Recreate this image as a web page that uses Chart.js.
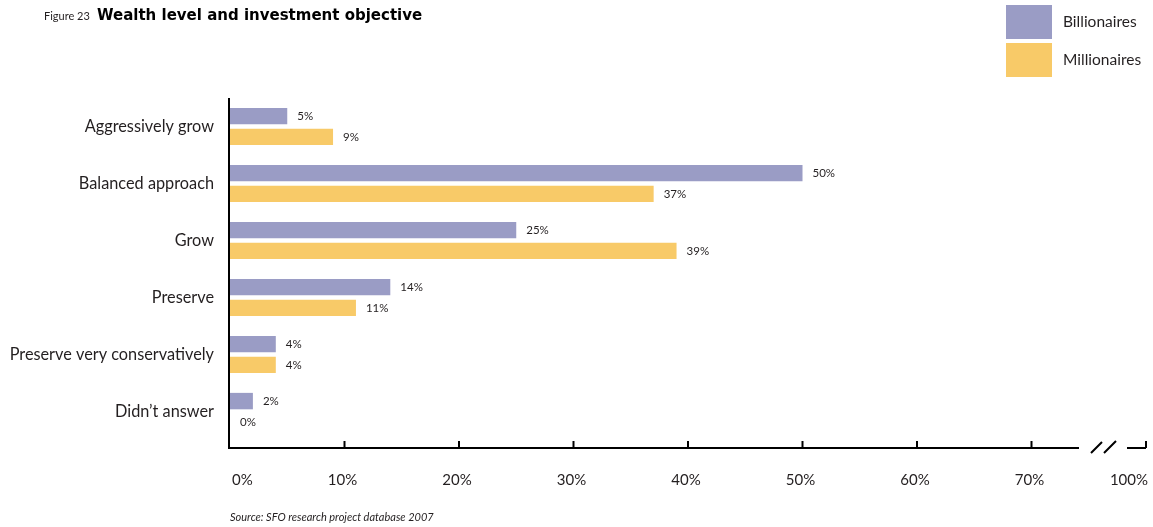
<!DOCTYPE html>
<html>
<head>
<meta charset="utf-8">
<script src="https://cdn.jsdelivr.net/npm/chart.js"></script>
<style>
  html, body { margin: 0; padding: 0; background: #fff; }
  #wrap { position: relative; width: 1153px; height: 527px; }
</style>
</head>
<body>
<div id="wrap"><canvas id="wealthChart" width="1153" height="527"></canvas></div>
<script>
// Chart data
const categories = ['Aggressively grow', 'Balanced approach', 'Grow', 'Preserve', 'Preserve very conservatively', 'Didn\u2019t answer'];
const billionaires = [5, 50, 25, 14, 4, 2];
const millionaires = [9, 37, 39, 11, 4, 0];
const tickValues = [0, 10, 20, 30, 40, 50, 60, 70, 80];
const tickLabels = ['0%', '10%', '20%', '30%', '40%', '50%', '60%', '70%', '100%'];

const FONT = 'Lato, "Noto Sans", sans-serif';
const TEXT = '#231f20';

// Draws title, legend, category labels, value labels, the broken x axis and the source note
const decorPlugin = {
  id: 'decor',
  afterDatasetsDraw(chart) {
    const ctx = chart.ctx;
    const x = chart.scales.x;
    const y = chart.scales.y;
    const area = chart.chartArea;
    const axisY = area.bottom + 8;
    ctx.save();

    // title
    ctx.fillStyle = TEXT;
    ctx.textBaseline = 'alphabetic';
    ctx.textAlign = 'left';
    ctx.font = '11px ' + FONT;
    ctx.fillText('Figure 23', 44, 20);
    ctx.fillStyle = '#000';
    ctx.font = 'bold 15px "DejaVu Sans", sans-serif';
    ctx.fillText('Wealth level and investment objective', 97, 20);
    ctx.fillStyle = TEXT;

    // legend
    chart.data.datasets.forEach((ds, i) => {
      const top = 5 + i * 38;
      ctx.fillStyle = ds.backgroundColor;
      ctx.fillRect(1006, top, 46, 34);
      ctx.fillStyle = TEXT;
      ctx.font = '15.5px ' + FONT;
      ctx.textBaseline = 'middle';
      ctx.fillText(ds.label, 1063, top + 17);
    });

    // category labels
    ctx.font = '16.3px ' + FONT;
    ctx.textAlign = 'right';
    ctx.textBaseline = 'middle';
    categories.forEach((c, i) => {
      ctx.fillText(c, 214, y.getPixelForValue(i));
    });

    // value labels
    ctx.font = '11.5px ' + FONT;
    ctx.textAlign = 'left';
    chart.data.datasets.forEach((ds, di) => {
      const meta = chart.getDatasetMeta(di);
      meta.data.forEach((bar, i) => {
        ctx.fillText(ds.data[i] + '%', bar.x + 10, bar.y);
      });
    });

    // axes
    ctx.strokeStyle = '#000';
    ctx.lineWidth = 2;
    ctx.beginPath();
    ctx.moveTo(area.left - 1, area.top);
    ctx.lineTo(area.left - 1, axisY);
    ctx.lineTo(1079, axisY);
    ctx.moveTo(1127, axisY);
    ctx.lineTo(area.right, axisY);
    ctx.stroke();

    // break marks
    ctx.beginPath();
    ctx.moveTo(1091, 453);
    ctx.lineTo(1102, 442);
    ctx.moveTo(1104, 453);
    ctx.lineTo(1116, 441);
    ctx.stroke();

    // ticks and tick labels
    ctx.font = '15px ' + FONT;
    ctx.textBaseline = 'middle';
    tickValues.forEach((v, i) => {
      const px = x.getPixelForValue(v);
      if (i > 0) {
        ctx.beginPath();
        ctx.moveTo(px, axisY);
        ctx.lineTo(px, axisY - 7);
        ctx.stroke();
      }
      if (i === 0) {
        ctx.textAlign = 'left';
        ctx.fillText(tickLabels[i], px + 2, 480);
      } else if (i === tickValues.length - 1) {
        ctx.textAlign = 'right';
        ctx.fillText(tickLabels[i], px + 2, 480);
      } else {
        ctx.textAlign = 'center';
        ctx.fillText(tickLabels[i], px - 2, 480);
      }
    });

    // source
    ctx.font = 'italic 11px ' + FONT;
    ctx.textAlign = 'left';
    ctx.fillText('Source: SFO research project database 2007', 230, 517);

    ctx.restore();
  }
};

new Chart(document.getElementById('wealthChart'), {
  type: 'bar',
  data: {
    labels: categories,
    datasets: [
      { label: 'Billionaires', data: billionaires, backgroundColor: '#9a9cc5' },
      { label: 'Millionaires', data: millionaires, backgroundColor: '#f8ca68' }
    ]
  },
  options: {
    indexAxis: 'y',
    responsive: false,
    animation: false,
    layout: { padding: { left: 230, right: 7, top: 98, bottom: 87 } },
    datasets: { bar: { categoryPercentage: 0.73, barPercentage: 0.79 } },
    scales: {
      x: { display: false, min: 0, max: 80 },
      y: { display: false }
    },
    plugins: {
      legend: { display: false },
      tooltip: { enabled: false }
    }
  },
  plugins: [decorPlugin]
});
</script>
</body>
</html>
